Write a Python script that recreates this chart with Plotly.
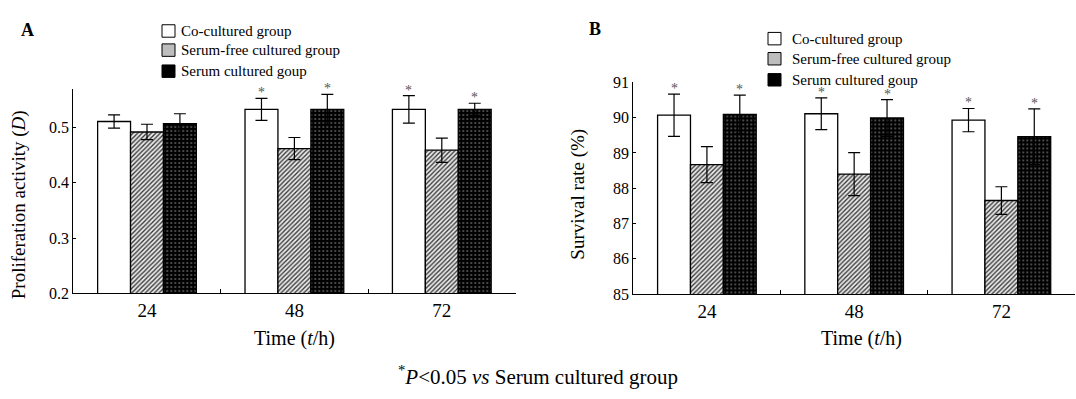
import plotly.graph_objects as go

# ---------------- data ----------------
times = ["24", "48", "72"]
series = ["Co-cultured group", "Serum-free cultured group", "Serum cultured goup"]

# Panel A: proliferation activity (D)
prolif_co = [0.511, 0.533, 0.533]
prolif_co_err = [0.012, 0.020, 0.025]
prolif_sf = [0.492, 0.462, 0.459]
prolif_sf_err = [0.014, 0.020, 0.022]
prolif_se = [0.507, 0.533, 0.533]
prolif_se_err = [0.018, 0.027, 0.011]
prolif_sig_co = [False, True, True]
prolif_sig_sf = [False, False, False]
prolif_sig_se = [False, True, True]

# Panel B: survival rate (%)
surv_co = [90.07, 90.11, 89.93]
surv_co_err = [0.60, 0.45, 0.33]
surv_sf = [88.67, 88.40, 87.65]
surv_sf_err = [0.51, 0.61, 0.39]
surv_se = [90.09, 89.99, 89.46]
surv_se_err = [0.55, 0.52, 0.79]
surv_sig_co = [True, True, True]
surv_sig_sf = [False, False, False]
surv_sig_se = [True, True, True]

prolif_ticks = [0.2, 0.3, 0.4, 0.5]
surv_ticks = [85, 86, 87, 88, 89, 90, 91]

# ---------------- style ----------------
W, H = 1076, 399
FONT = "Liberation Serif"
BARGAP = 0.33


def px(x):
    return x / W


def py(y):
    return 1 - y / H


fill_styles = [
    dict(color="white", pattern=dict(shape="")),
    dict(color="white", pattern=dict(shape="/", fgcolor="#333333", bgcolor="#e8e8e8",
                                     size=3.2, solidity=0.4, fillmode="replace")),
    dict(color="black", pattern=dict(shape=".", fgcolor="#8f8f8f", bgcolor="black",
                                     size=4, solidity=0.14, fillmode="replace")),
]
legend_colors = ["white", "#bdbdbd", "black"]

panels = [
    dict(vals=[prolif_co, prolif_sf, prolif_se],
         errs=[prolif_co_err, prolif_sf_err, prolif_se_err],
         sigs=[prolif_sig_co, prolif_sig_sf, prolif_sig_se],
         xa="x", ya="y", xdom=(73.3, 515.5), ydom=(298, 84.5),
         yrange=[0.2, 0.57], ticks=prolif_ticks,
         ticktext=[f"{t:.1f}" for t in prolif_ticks],
         leg_box_x=162, leg_text_x=179, leg_rows=[24, 44, 66],
         label="A", label_xy=(27.5, 23),
         ytitle="Proliferation activity (<i>D</i>)", ytitle_xy=(19, 206),
         xtitle_xy=(294, 345)),
    dict(vals=[surv_co, surv_sf, surv_se],
         errs=[surv_co_err, surv_sf_err, surv_se_err],
         sigs=[surv_sig_co, surv_sig_sf, surv_sig_se],
         xa="x2", ya="y2", xdom=(633.3, 1075), ydom=(298.7, 77.7),
         yrange=[85, 91], ticks=surv_ticks,
         ticktext=[str(t) for t in surv_ticks],
         leg_box_x=768, leg_text_x=789.5, leg_rows=[32, 53, 75],
         label="B", label_xy=(594.5, 22),
         ytitle="Survival rate (%)", ytitle_xy=(578, 195),
         xtitle_xy=(861, 345)),
]

fig = go.Figure()
shapes = []
annotations = []

for p in panels:
    for j, name in enumerate(series):
        st = fill_styles[j]
        fig.add_trace(go.Bar(
            x=times, y=p["vals"][j], name=name, showlegend=False,
            xaxis=p["xa"], yaxis=p["ya"],
            marker=dict(color=st["color"], pattern=st["pattern"],
                        line=dict(color="black", width=1.3)),
            error_y=dict(type="data", array=p["errs"][j], visible=True,
                         color="black", thickness=1.2, width=6),
        ))
    # asterisks above the error bars of significant groups
    cat_px = (p["xdom"][1] - p["xdom"][0]) / len(times)
    bar_px = cat_px * (1 - BARGAP) / len(series)
    for j in range(len(series)):
        for i in range(len(times)):
            if p["sigs"][j][i]:
                annotations.append(dict(
                    x=i, y=p["vals"][j][i] + p["errs"][j][i],
                    xref=p["xa"], yref=p["ya"], text="*", showarrow=False,
                    xanchor="center", xshift=(j - 1) * bar_px,
                    yanchor="bottom", yshift=-4,
                    font=dict(family=FONT, size=14, color="#555555")))
    # custom legend (solid swatches as in the original)
    for j, name in enumerate(series):
        yc = p["leg_rows"][j]
        shapes.append(dict(type="rect", xref="paper", yref="paper",
                           x0=px(p["leg_box_x"]), x1=px(p["leg_box_x"] + 13),
                           y0=py(yc + 6.5), y1=py(yc - 6.5),
                           fillcolor=legend_colors[j],
                           line=dict(color="black", width=1)))
        annotations.append(dict(x=px(p["leg_text_x"]), y=py(yc), xref="paper", yref="paper",
                                text=name, showarrow=False, xanchor="left", yanchor="middle",
                                font=dict(family=FONT, size=15, color="black")))
    annotations.append(dict(x=px(p["label_xy"][0]), y=py(p["label_xy"][1]),
                            xref="paper", yref="paper", text=f"<b>{p['label']}</b>",
                            xanchor="center", yanchor="middle",
                            showarrow=False, font=dict(family=FONT, size=18, color="black")))
    annotations.append(dict(x=px(p["ytitle_xy"][0]), y=py(p["ytitle_xy"][1]),
                            xref="paper", yref="paper", text=p["ytitle"], textangle=-90,
                            xanchor="center", yanchor="middle",
                            showarrow=False, font=dict(family=FONT, size=19, color="black")))
    annotations.append(dict(x=px(p["xtitle_xy"][0]), y=py(p["xtitle_xy"][1]),
                            xref="paper", yref="paper", text="Time (<i>t</i>/h)",
                            xanchor="center", yanchor="middle",
                            showarrow=False, font=dict(family=FONT, size=20, color="black")))

annotations.append(dict(x=px(537.5), y=py(384), xref="paper", yref="paper",
                        text="<sup>*</sup><i>P</i>&lt;0.05 <i>vs</i> Serum cultured group",
                        xanchor="center", yanchor="middle",
                        showarrow=False, font=dict(family=FONT, size=21, color="black")))

axis_common = dict(showline=True, linecolor="black", linewidth=1.3, showgrid=False,
                   zeroline=False, ticks="inside", tickcolor="black", tickwidth=1.2)

layout = dict(
    width=W, height=H, margin=dict(l=0, r=0, t=0, b=0),
    paper_bgcolor="white", plot_bgcolor="white",
    barmode="group", bargap=BARGAP, bargroupgap=0,
    font=dict(family=FONT, color="black"),
    showlegend=False, shapes=shapes, annotations=annotations,
)
for k, p in enumerate(panels):
    sx = "" if k == 0 else str(k + 1)
    layout["xaxis" + sx] = dict(axis_common, type="category",
                                domain=[px(p["xdom"][0]), px(p["xdom"][1])],
                                range=[-0.5, len(times) - 0.5],
                                anchor=p["ya"], tickson="boundaries", ticklen=4,
                                tickfont=dict(family=FONT, size=19, color="black"))
    layout["yaxis" + sx] = dict(axis_common, domain=[py(p["ydom"][0]), py(p["ydom"][1])],
                                anchor=p["xa"], range=p["yrange"], tickvals=p["ticks"],
                                ticktext=p["ticktext"], ticklen=3,
                                tickfont=dict(family=FONT, size=16, color="black"))
fig.update_layout(**layout)
fig.write_html(
    "out.html",
    config={"displayModeBar": False},
    post_script="document.body.style.margin='0';document.documentElement.style.overflow='hidden';document.body.style.overflow='hidden';",
)
